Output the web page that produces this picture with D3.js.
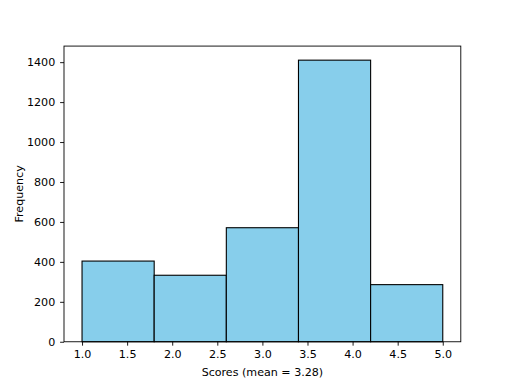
<!DOCTYPE html>
<html>
<head>
<meta charset="utf-8">
<script src="https://cdn.jsdelivr.net/npm/d3@7"></script>
<style>
  body { margin: 0; background: #fff; }
  text { font-family: "DejaVu Sans", sans-serif; }
</style>
</head>
<body>
<svg id="chart"></svg>
<script>
// Histogram data (bin edges and counts)
const binEdges = [1.0, 1.8, 2.6, 3.4, 4.2, 5.0];
const counts = [404, 333, 571, 1410, 286];
const xTicks = [1.0, 1.5, 2.0, 2.5, 3.0, 3.5, 4.0, 4.5, 5.0];
const yTicks = [0, 200, 400, 600, 800, 1000, 1200, 1400];
const xLabel = "Scores (mean = 3.28)";
const yLabel = "Frequency";

const W = 512, H = 384;
const margin = { top: 46.08, right: 51.2, bottom: 42.24, left: 64 };
const width = W - margin.left - margin.right;
const height = H - margin.top - margin.bottom;

const svg = d3.select("#chart")
  .attr("width", W)
  .attr("height", H);

const g = svg.append("g")
  .attr("transform", "translate(" + margin.left + "," + margin.top + ")");

const bins = counts.map((c, i) => ({ x0: binEdges[i], x1: binEdges[i + 1], n: c }));

// matplotlib-like 5% margins
const xPad = (binEdges[binEdges.length - 1] - binEdges[0]) * 0.05;
const xScale = d3.scaleLinear()
  .domain([binEdges[0] - xPad, binEdges[binEdges.length - 1] + xPad])
  .range([0, width]);

const yScale = d3.scaleLinear()
  .domain([0, d3.max(counts) * 1.05])
  .range([height, 0]);

// Bars
g.selectAll(".bar")
  .data(bins)
  .enter().append("rect")
  .attr("class", "bar")
  .attr("x", d => xScale(d.x0))
  .attr("y", d => yScale(d.n))
  .attr("width", d => xScale(d.x1) - xScale(d.x0))
  .attr("height", d => height - yScale(d.n))
  .attr("fill", "#87ceeb")
  .attr("stroke", "#000")
  .attr("stroke-width", 1.1);

// Axes
const xAxis = d3.axisBottom(xScale)
  .tickValues(xTicks)
  .tickFormat(d3.format(".1f"))
  .tickSize(3.9)
  .tickPadding(4.9);

const yAxis = d3.axisLeft(yScale)
  .tickValues(yTicks)
  .tickFormat(d3.format("d"))
  .tickSize(3.9)
  .tickPadding(4.9);

const gx = g.append("g")
  .attr("transform", "translate(0," + height + ")")
  .call(xAxis);

const gy = g.append("g")
  .call(yAxis);

[gx, gy].forEach(a => {
  a.select(".domain").remove();
  a.selectAll("line").attr("stroke", "#000").attr("stroke-width", 0.9);
  a.selectAll("text").attr("fill", "#000").style("font-size", "11.1px")
    .style("font-family", "DejaVu Sans, sans-serif");
});

// Frame (spines)
g.append("rect")
  .attr("x", 0)
  .attr("y", 0)
  .attr("width", width)
  .attr("height", height)
  .attr("fill", "none")
  .attr("stroke", "#000")
  .attr("stroke-width", 0.9);

// Labels
g.append("text")
  .attr("x", width / 2)
  .attr("y", height + 34)
  .attr("text-anchor", "middle")
  .style("font-size", "11.1px")
  .text(xLabel);

g.append("text")
  .attr("transform", "translate(" + (-41) + "," + (height / 2) + ") rotate(-90)")
  .attr("text-anchor", "middle")
  .style("font-size", "11.1px")
  .text(yLabel);
</script>
</body>
</html>
